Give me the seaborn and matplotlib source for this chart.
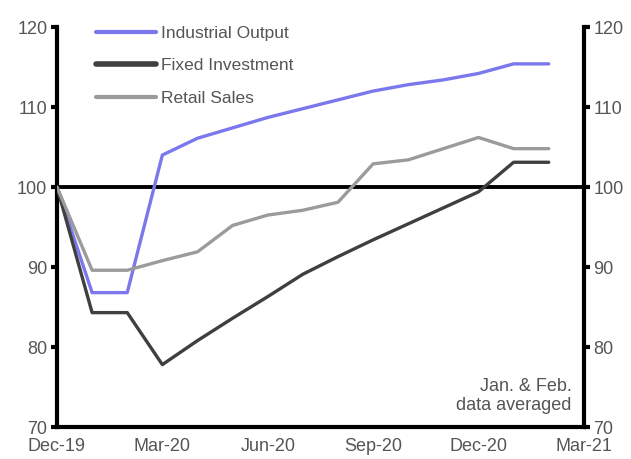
import matplotlib
matplotlib.use("Agg")
import matplotlib.pyplot as plt
import seaborn as sns
import pandas as pd
from matplotlib.lines import Line2D

months = ["Dec-19", "Jan-20", "Feb-20", "Mar-20", "Apr-20", "May-20", "Jun-20", "Jul-20",
          "Aug-20", "Sep-20", "Oct-20", "Nov-20", "Dec-20", "Jan-21", "Feb-21"]
industrial_output = [100, 86.8, 86.8, 104.0, 106.1, 107.4, 108.7, 109.8, 110.9, 112.0,
                     112.8, 113.4, 114.2, 115.4, 115.4]
fixed_investment = [100, 84.3, 84.3, 77.8, 80.8, 83.6, 86.3, 89.1, 91.3, 93.4,
                    95.4, 97.4, 99.4, 103.1, 103.1]
retail_sales = [100, 89.6, 89.6, 90.8, 91.9, 95.2, 96.5, 97.1, 98.1, 102.9,
                103.4, 104.8, 106.2, 104.8, 104.8]
series_names = ["Industrial Output", "Fixed Investment", "Retail Sales"]
tick_labels = ["Dec-19", "Mar-20", "Jun-20", "Sep-20", "Dec-20", "Mar-21"]
y_ticks = [70, 80, 90, 100, 110, 120]

sns.set_style("white")
plt.rcParams["font.family"] = ["Liberation Sans", "DejaVu Sans"]

rows = []
for name, vals in zip(series_names, [industrial_output, fixed_investment, retail_sales]):
    for i, v in enumerate(vals):
        rows.append({"idx": i, "value": v, "series": name})
df = pd.DataFrame(rows)

palette = {"Industrial Output": "#7b78ee", "Fixed Investment": "#3f3f3f", "Retail Sales": "#9b9b9b"}

fig = plt.figure(figsize=(6.31, 4.59), dpi=100)
ax = fig.add_axes([0.0903, 0.0697, 0.835, 0.8713])
ax.axhline(100, color="black", lw=2.8, zorder=1)
sns.lineplot(data=df, x="idx", y="value", hue="series", palette=palette, ax=ax,
             linewidth=2.4, legend=False, zorder=3)

ax.set_xlim(0, 15)
ax.set_ylim(70, 120)
ax.set_xticks([0, 3, 6, 9, 12, 15])
ax.set_xticklabels(tick_labels)
ax.set_yticks(y_ticks)
ax.set_xlabel("")
ax.set_ylabel("")

for side in ["left", "bottom", "right"]:
    ax.spines[side].set_visible(True)
    ax.spines[side].set_linewidth(3)
    ax.spines[side].set_color("black")
ax.spines["top"].set_visible(False)

label_color = "#555555"
ax.tick_params(axis="both", direction="out", length=4, width=3, color="black",
               labelsize=13, labelcolor=label_color, pad=3)
ax.tick_params(axis="x", pad=4)

ax2 = ax.twinx()
ax2.set_ylim(70, 120)
ax2.set_yticks(y_ticks)
for side in ["left", "bottom", "top", "right"]:
    ax2.spines[side].set_visible(False)
ax2.tick_params(axis="y", direction="out", length=4, width=3, color="black",
                labelsize=13, labelcolor=label_color, pad=3)

handles = [Line2D([0], [0], color=palette[n], lw=3 if n != "Fixed Investment" else 4) for n in series_names]
leg = ax.legend(handles, series_names, loc="upper left", bbox_to_anchor=(0.045, 1.043),
                frameon=False, fontsize=12.5, handlelength=3.45, handletextpad=0.25,
                labelspacing=1.01)
for t in leg.get_texts():
    t.set_color(label_color)

ax.text(0.977, 0.078, "Jan. & Feb.\ndata averaged", transform=ax.transAxes,
        ha="right", va="center", fontsize=13, color=label_color, linespacing=1.2)

fig.savefig("out.png", dpi=100)
